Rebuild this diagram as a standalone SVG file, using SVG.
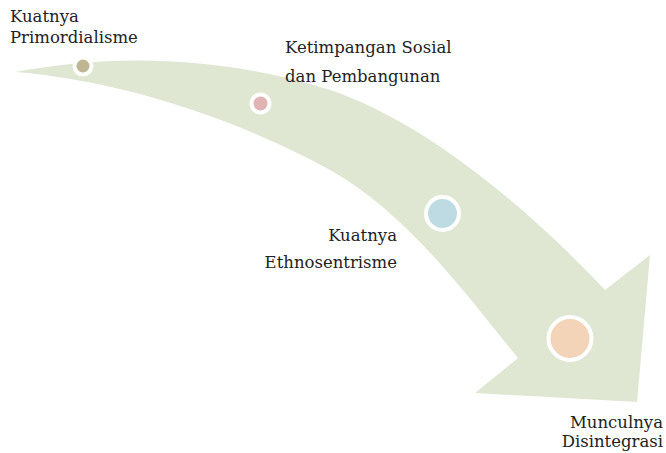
<svg xmlns="http://www.w3.org/2000/svg" width="666" height="453" viewBox="0 0 666 453">
<style>
.lbl{font-family:"DejaVu Serif","Liberation Serif",serif;font-size:16.5px;fill:#222}
.dot{stroke:#fff;stroke-width:4}
</style>
<rect width="666" height="453" fill="#fff"/>
<g id="connectors">
<path d="M15,72 C110,54 220,55 330,90 C420,120 520,200 605,290 L650,255 L637,402 L475,393 L518,358 C470,300 410,215 330,170 C240,120 120,80 15,72 Z" fill="#dfe6d1"/>
</g>
<g id="n1">
<circle class="dot" cx="83" cy="66" r="8.5" fill="#bfb791"/>
<text class="lbl" x="10" y="22">Kuatnya</text>
<text class="lbl" x="10" y="43">Primordialisme</text>
</g>
<g id="n2">
<circle class="dot" cx="260.5" cy="103.5" r="9" fill="#dfb4b3"/>
<text class="lbl" x="285" y="53">Ketimpangan Sosial</text>
<text class="lbl" x="285" y="82">dan Pembangunan</text>
</g>
<g id="n3">
<circle class="dot" cx="442.5" cy="213.5" r="16.5" fill="#bedbe3"/>
<text class="lbl" x="397" y="241" text-anchor="end">Kuatnya</text>
<text class="lbl" x="397" y="268" text-anchor="end">Ethnosentrisme</text>
</g>
<g id="n4">
<circle class="dot" cx="570" cy="338.5" r="21.5" fill="#f3d4b9"/>
<text class="lbl" x="663" y="428" text-anchor="end">Munculnya</text>
<text class="lbl" x="663" y="447" text-anchor="end">Disintegrasi</text>
</g>
</svg>
